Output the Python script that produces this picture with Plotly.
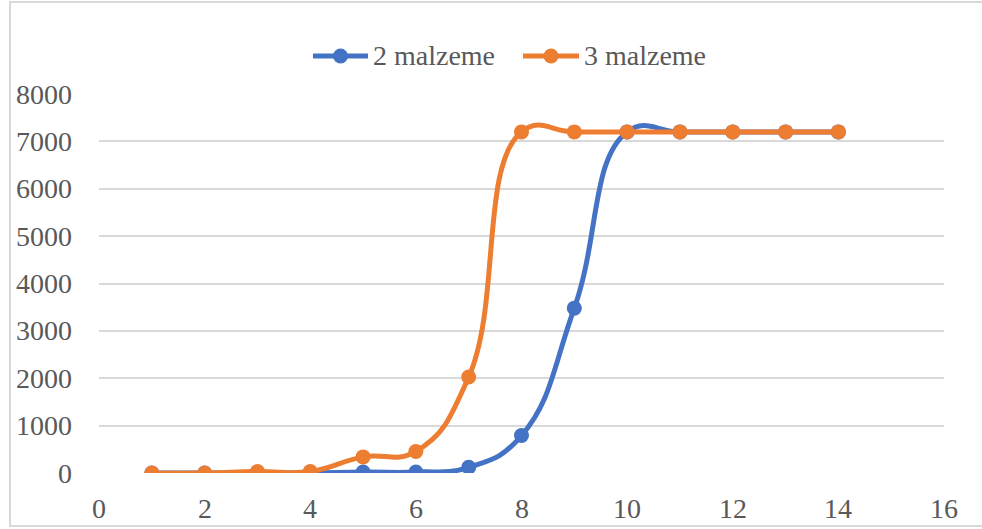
import plotly.graph_objects as go

# Data
x_vals = [1, 2, 3, 4, 5, 6, 7, 8, 9, 10, 11, 12, 13, 14]
malzeme_2 = [0, 0, 0, 0, 20, 20, 120, 790, 3480, 7200, 7200, 7200, 7200, 7200]
malzeme_3 = [0, 0, 30, 30, 340, 455, 2025, 7200, 7200, 7200, 7200, 7200, 7200, 7200]
series_names = ["2 malzeme", "3 malzeme"]
x_ticks = [0, 2, 4, 6, 8, 10, 12, 14, 16]
y_ticks = [0, 1000, 2000, 3000, 4000, 5000, 6000, 7000, 8000]

BLUE = "#4472C4"
ORANGE = "#ED7D31"
TEXT_GREY = "#595959"
GRID = "#D9D9D9"
FONT = "Liberation Serif"
FSIZE = 28

W, H = 982, 529
L, R, T, B = 99, 38, 94, 56
pw, ph = W - L - R, H - T - B


def px_x(p):
    return (p - L) / pw


def px_y(p):
    return (H - B - p) / ph


fig = go.Figure()
for name, vals, col in zip(series_names, [malzeme_2, malzeme_3], [BLUE, ORANGE]):
    fig.add_trace(go.Scatter(
        x=x_vals, y=vals, name=name, mode="lines+markers", showlegend=False,
        line=dict(color=col, width=5, shape="spline", smoothing=1.3),
        marker=dict(color=col, size=15),
    ))

# outer chart frame
fig.add_shape(type="rect", xref="paper", yref="paper",
              x0=px_x(10), x1=px_x(990), y0=px_y(526), y1=px_y(2),
              line=dict(color=GRID, width=2), layer="below")

# axis tick labels
for v in y_ticks:
    fig.add_annotation(
        xref="paper", yref="y", x=px_x(74), y=v, text=str(v),
        xanchor="right", yanchor="middle", showarrow=False,
        font=dict(family=FONT, size=FSIZE, color=TEXT_GREY),
    )
for v in x_ticks:
    fig.add_annotation(
        xref="x", yref="paper", x=v, y=px_y(508), text=str(v),
        xanchor="center", yanchor="middle", showarrow=False,
        font=dict(family=FONT, size=FSIZE, color=TEXT_GREY),
    )

# legend: line sample with a dot, then the series name
legend_items = [(313, 368, series_names[0], BLUE), (523, 579, series_names[1], ORANGE)]
leg_y = 56
dot_r = 7.5
for x0, x1, name, col in legend_items:
    fig.add_shape(type="line", xref="paper", yref="paper",
                  x0=px_x(x0), x1=px_x(x1), y0=px_y(leg_y), y1=px_y(leg_y),
                  line=dict(color=col, width=5))
    cx = (x0 + x1) / 2
    fig.add_shape(type="circle", xref="paper", yref="paper",
                  x0=px_x(cx - dot_r), x1=px_x(cx + dot_r),
                  y0=px_y(leg_y + dot_r), y1=px_y(leg_y - dot_r),
                  fillcolor=col, line=dict(color=col, width=0))
    fig.add_annotation(
        xref="paper", yref="paper", x=px_x(x1 + 3), y=px_y(leg_y), text=name,
        xanchor="left", yanchor="middle", showarrow=False,
        font=dict(family=FONT, size=FSIZE, color=TEXT_GREY),
    )

fig.update_layout(
    width=W, height=H, autosize=False,
    margin=dict(l=L, r=R, t=T, b=B),
    paper_bgcolor="white", plot_bgcolor="white",
    showlegend=False,
    xaxis=dict(range=[0, 16], tickvals=x_ticks, showticklabels=False,
               showgrid=False, zeroline=False, showline=False, ticks=""),
    # y tick labels are drawn by the annotations above; the axis labels are
    # kept transparent and inside so the serif face is laid out early
    yaxis=dict(range=[0, 8000], tickvals=y_ticks, showticklabels=True,
               ticklabelposition="inside",
               tickfont=dict(family=FONT, size=FSIZE, color="rgba(0,0,0,0)"),
               showgrid=True, gridcolor=GRID, gridwidth=1.5,
               zeroline=False, showline=False, ticks=""),
)

fig.write_html("out.html")
